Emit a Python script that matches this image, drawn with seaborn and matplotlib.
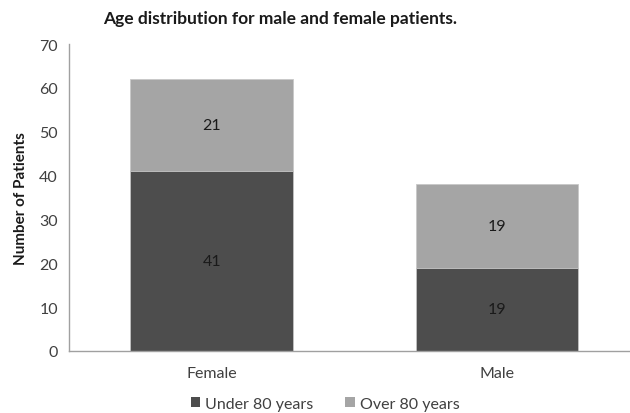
import matplotlib
matplotlib.use("Agg")
import matplotlib.pyplot as plt
import seaborn as sns
import pandas as pd
from matplotlib.patches import Patch

sexes = ["Female", "Male"]
under_80 = [41, 19]
over_80 = [21, 19]
series_names = ["Under 80 years", "Over 80 years"]
y_ticks = [0, 10, 20, 30, 40, 50, 60, 70]

dark = "#4d4d4d"
light = "#a5a5a5"
text_col = "#404040"

sns.set_theme(style="white")
plt.rcParams["font.family"] = ["Lato", "DejaVu Sans"]

df = pd.DataFrame({"sex": sexes, "under": under_80, "over": over_80})
df["total"] = df["under"] + df["over"]

fig = plt.figure(figsize=(6.3, 4.14), dpi=100)
ax = fig.add_axes([0.1095, 0.15, 0.8905, 0.741])

# stacked bars: full height in light grey, lower segment in dark grey on top
sns.barplot(data=df, x="sex", y="total", color=light, width=0.57,
            saturation=1, edgecolor="#c8c8c8", linewidth=0.6, ax=ax)
sns.barplot(data=df, x="sex", y="under", color=dark, width=0.57,
            saturation=1, edgecolor="#c8c8c8", linewidth=0.6, ax=ax)

for i, row in df.iterrows():
    ax.text(i, row["under"] / 2, str(row["under"]), ha="center", va="center",
            fontsize=11.5, color="#1a1a1a")
    ax.text(i, row["under"] + row["over"] / 2, str(row["over"]), ha="center",
            va="center", fontsize=11.5, color="#1a1a1a")

ax.set_xlim(-0.5, 1.466)
ax.set_ylim(0, 70)
ax.set_yticks(y_ticks)
ax.set_yticklabels([str(t) for t in y_ticks])
ax.tick_params(axis="both", labelsize=11.5, colors=text_col, length=0, pad=8)
ax.tick_params(axis="x", pad=11)
ax.set_xlabel("")
ax.set_ylabel("Number of Patients", fontsize=11, fontweight="bold",
              color="#1a1a1a", labelpad=8)

for side in ["top", "right"]:
    ax.spines[side].set_visible(False)
for side in ["left", "bottom"]:
    ax.spines[side].set_color("#a0a0a0")
    ax.spines[side].set_linewidth(1.0)

fig.text(0.444, 0.955, "Age distribution for male and female patients.",
         ha="center", va="center", fontsize=12.5, fontweight="bold",
         color="#1a1a1a")

handles = [Patch(facecolor=dark, edgecolor="none"),
           Patch(facecolor=light, edgecolor="none")]
fig.legend(handles, series_names, loc="center", bbox_to_anchor=(0.516, 0.022),
           ncol=2, frameon=False, fontsize=11.5, handlelength=0.6,
           handleheight=0.6, handletextpad=0.3, columnspacing=2.0,
           labelcolor=text_col)

fig.savefig("out.png", dpi=100)
